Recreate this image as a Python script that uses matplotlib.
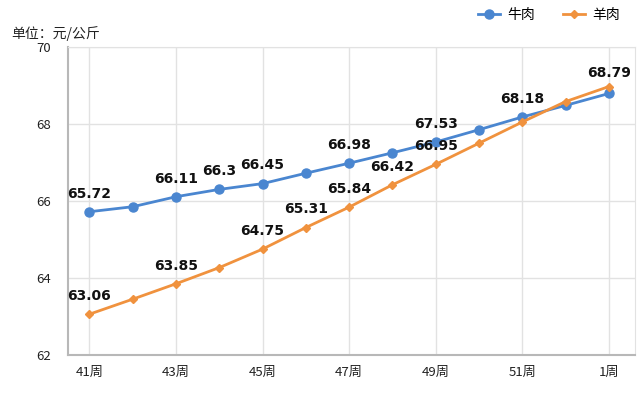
import matplotlib
matplotlib.use('Agg')
import matplotlib.pyplot as plt

plt.rcParams['font.family'] = ['Noto Sans CJK SC', 'DejaVu Sans']

weeks = ['41周', '42周', '43周', '44周', '45周', '46周', '47周',
         '48周', '49周', '50周', '51周', '52周', '1周']
beef = [65.72, 65.85, 66.11, 66.3, 66.45, 66.72, 66.98,
        67.25, 67.53, 67.85, 68.18, 68.48, 68.79]
mutton = [63.06, 63.45, 63.85, 64.27, 64.75, 65.31, 65.84,
          66.42, 66.95, 67.5, 68.05, 68.58, 68.97]

# 哪些点显示数值标签
beef_labels = {0: '65.72', 2: '66.11', 3: '66.3', 4: '66.45', 6: '66.98',
               8: '67.53', 10: '68.18'}
mutton_labels = {0: '63.06', 2: '63.85', 4: '64.75', 5: '65.31', 6: '65.84',
                 7: '66.42', 8: '66.95'}

blue = '#4a86d0'
orange = '#f0923e'

fig = plt.figure(figsize=(6.4, 3.94), dpi=100)
ax = fig.add_axes([0.106, 0.099, 0.886, 0.782])

x = list(range(len(weeks)))
ax.plot(x, beef, '-o', color=blue, lw=2, ms=6.5, label='牛肉', zorder=3)
ax.plot(x, mutton, '-D', color=orange, lw=2, ms=4.5, label='羊肉', zorder=3)

lbl = dict(ha='center', va='bottom', fontsize=10, fontweight='bold',
           family='DejaVu Sans', color='#111111', textcoords='offset points')
for i, t in beef_labels.items():
    ax.annotate(t, (x[i], beef[i]), xytext=(0, 8), **lbl)
for i, t in mutton_labels.items():
    ax.annotate(t, (x[i], mutton[i]), xytext=(0, 8), **lbl)
# 最后一点的标签
ax.annotate('68.79', (x[12], mutton[12]), xytext=(0, 5), **lbl)

ax.set_xlim(-0.5, 12.6)
ax.set_ylim(62, 70)
ax.set_yticks([62, 64, 66, 68, 70])
ax.set_xticks(x[::2])
ax.set_xticklabels(weeks[::2])
ax.tick_params(axis='both', length=0, labelsize=9.5, colors='#222222')
ax.tick_params(axis='x', pad=8)
ax.tick_params(axis='y', pad=12)
for t in ax.get_xticklabels() + ax.get_yticklabels():
    t.set_fontweight('medium')
ax.grid(True, color='#e2e2e2', lw=1)
ax.set_axisbelow(True)
for s in ['top', 'right']:
    ax.spines[s].set_color('#e2e2e2')
for s in ['left', 'bottom']:
    ax.spines[s].set_color('#b8b8b8')
    ax.spines[s].set_linewidth(1.5)

fig.text(0.018, 0.915, '单位：元/公斤', fontsize=10, fontweight='medium',
         color='#222222', va='center')
ax.legend(loc='center right', bbox_to_anchor=(0.995, 1.105), ncol=2, frameon=False,
          fontsize=10, handlelength=1.6, columnspacing=2.0, handletextpad=0.5)

fig.savefig('out.png', dpi=100)
